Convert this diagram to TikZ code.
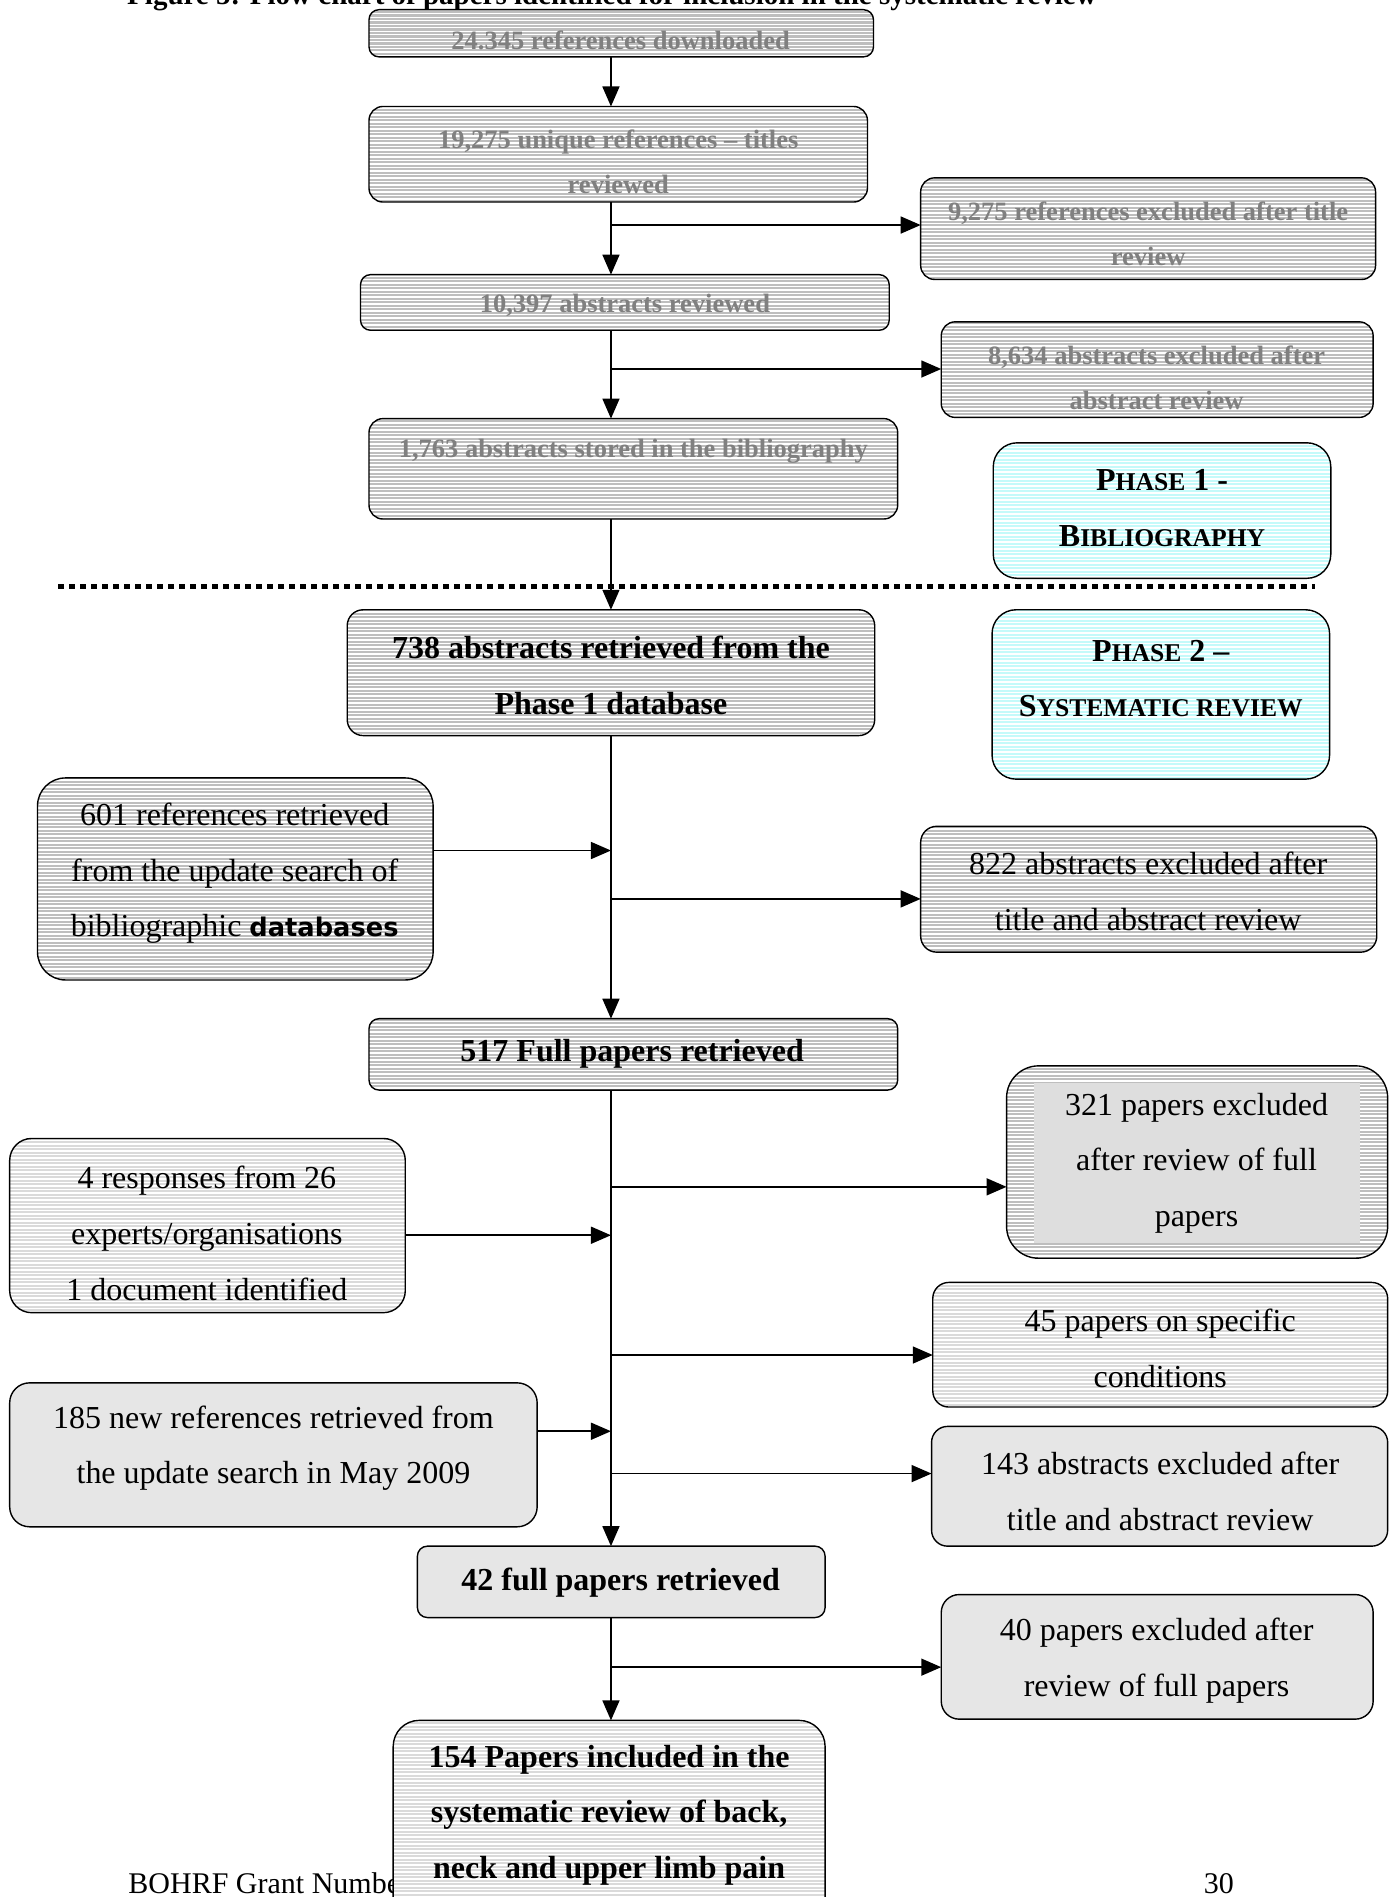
\documentclass[tikz,border=0pt]{standalone}
\usepackage{fontspec}
\setmainfont{Liberation Serif}
\newfontfamily\dvs{DejaVu Sans}
\usetikzlibrary{patterns,arrows.meta}
\definecolor{darkbase}{HTML}{BEBEBE}
\definecolor{lightbase}{HTML}{DADADA}
\definecolor{solidgray}{HTML}{E6E6E6}
\definecolor{cyanbase}{HTML}{C4FAFA}
\definecolor{innergray}{HTML}{DEDEDE}
\definecolor{phgray}{HTML}{808080}
\pgfdeclarepatternformonly{hstripes}{\pgfqpoint{-1pt}{-1pt}}{\pgfqpoint{5pt}{4.5pt}}{\pgfqpoint{4pt}{3.5pt}}{%
  \pgfpathrectangle{\pgfqpoint{-1pt}{0pt}}{\pgfqpoint{6pt}{1.1pt}}\pgfusepath{fill}}
% name, x1, y1, x2, y2, style, corner radius
\newcommand\flowbox[7]{%
  \node[#6, rounded corners=#7, minimum width={1.2099pt*(#4-#2)}, minimum height={1.2099pt*(#5-#3)}]
    (#1) at ({(#2+#4)/2},{(#3+#5)/2}) {};}
\newcommand\psc[1]{{\fontsize{25.6}{55.7}\selectfont #1}}
\begin{document}
\begin{tikzpicture}[x=1.2099pt,y=-1.2099pt,
  bx/.style={draw=black, line width=1.4pt, inner sep=0pt, outer sep=0pt},
  darkbox/.style={bx, preaction={fill=darkbase}, pattern=hstripes, pattern color=white},
  lightbox/.style={bx, preaction={fill=lightbase}, pattern=hstripes, pattern color=white},
  solidbox/.style={bx, fill=solidgray},
  cyanbox/.style={bx, preaction={fill=cyanbase}, pattern=hstripes, pattern color=white},
  gtxt/.style={text=phgray, font=\fontsize{26.5}{45}\selectfont\bfseries, align=center, inner sep=0pt, yshift=-2.5pt},
  btxt/.style={font=\fontsize{32}{55.7}\selectfont\bfseries, align=center, inner sep=0pt, yshift=-3.5pt},
  rtxt/.style={font=\fontsize{32}{55.7}\selectfont, align=center, inner sep=0pt, yshift=-3.5pt},
  arr/.style={line width=1.6pt, -{Triangle[length=20pt,width=17pt]}},
  ln/.style={line width=1.6pt}]
\useasboundingbox (0,0) rectangle (1153,1568);

% title and footer
\node[anchor=base west, inner sep=0pt, font=\fontsize{29}{34}\selectfont\bfseries] (title) at (105,4)
  {Figure 5: Flow chart of papers identified for inclusion in the systematic review};
\node[anchor=base west, inner sep=0pt, font=\fontsize{30}{34}\selectfont] (foot) at (106,1565) {BOHRF Grant Number};
\node[anchor=base west, inner sep=0pt, font=\fontsize{30}{34}\selectfont] (page) at (995,1565) {30};

% separator
\draw[line width=5pt, dash pattern=on 6pt off 5pt] (48,485) -- (1087,485);

% boxes
\flowbox{b1}{305}{8}{722}{47}{darkbox}{10pt}
\flowbox{b2}{305}{88}{717}{167}{darkbox}{14pt}
\flowbox{b3}{761}{147}{1137}{231}{darkbox}{14pt}
\flowbox{b4}{298}{227}{735}{273}{darkbox}{10pt}
\flowbox{b5}{778}{266}{1135}{345}{darkbox}{14pt}
\flowbox{b6}{305}{346}{742}{429}{darkbox}{14pt}
\flowbox{p1}{821}{366}{1100}{478}{cyanbox}{24pt}
\flowbox{b7}{287}{504}{723}{608}{darkbox}{16pt}
\flowbox{p2}{820}{504}{1099}{644}{cyanbox}{24pt}
\flowbox{b8}{31}{643}{358}{810}{darkbox}{28pt}
\flowbox{b9}{761}{683}{1138}{787}{darkbox}{16pt}
\flowbox{b10}{305}{842}{742}{901}{darkbox}{10pt}
\flowbox{b11}{832}{881}{1147}{1040}{darkbox}{32pt}
\fill[innergray] (855,895) rectangle (1124,1027);
\flowbox{b12}{8}{941}{335}{1085}{lightbox}{22pt}
\flowbox{b13}{771}{1060}{1147}{1163}{lightbox}{16pt}
\flowbox{b14}{8}{1143}{444}{1262}{solidbox}{20pt}
\flowbox{b15}{770}{1179}{1147}{1278}{solidbox}{16pt}
\flowbox{b16}{345}{1278}{682}{1337}{solidbox}{10pt}
\flowbox{b17}{778}{1318}{1135}{1421}{solidbox}{18pt}
\flowbox{b18}{325}{1422}{682}{1600}{lightbox}{26pt}

% texts
\node[gtxt] (t1) at (513,31) {24.345 references downloaded};
\node[gtxt] (t2) at (511,131.5) {19,275 unique references – titles\\reviewed};
\node[gtxt] (t3) at (949,191) {9,275 references excluded after title\\review};
\node[gtxt] (t4) at (516.5,250) {10,397 abstracts reviewed};
\node[gtxt] (t5) at (956,310) {8,634 abstracts excluded after\\abstract review};
\node[gtxt] (t6) at (523.5,371) {1,763 abstracts stored in the bibliography};
\node[btxt] (tp1) at (960.5,417) {P\psc{HASE} 1 -\\B\psc{IBLIOGRAPHY}};
\node[btxt] (t7) at (505,555.5) {738 abstracts retrieved from the\\Phase 1 database};
\node[btxt] (tp2) at (959.5,558) {P\psc{HASE} 2 –\\S\psc{YSTEMATIC REVIEW}};
\node[rtxt] (t8) at (194,719) {601 references retrieved\\from the update search of\\bibliographic {\dvs\bfseries\fontsize{25.7}{55.7}\selectfont databases}};
\node[rtxt] (t9) at (949,734) {822 abstracts excluded after\\title and abstract review};
\node[btxt] (t10) at (522.5,868) {517 Full papers retrieved};
\node[rtxt] (t11) at (989,958.5) {321 papers excluded\\after review of full\\papers};
\node[rtxt] (t12) at (171,1016.5) {4 responses from 26\\experts/organisations\\1 document identified};
\node[rtxt] (t13) at (959,1111.5) {45 papers on specific\\conditions};
\node[rtxt] (t14) at (226,1194) {185 new references retrieved from\\the update search in May 2009};
\node[rtxt] (t15) at (959,1230) {143 abstracts excluded after\\title and abstract review};
\node[btxt] (t16) at (513,1305) {42 full papers retrieved};
\node[rtxt] (t17) at (956,1370) {40 papers excluded after\\review of full papers};
\node[btxt] (t18) at (503.5,1497.5) {154 Papers included in the\\systematic review of back,\\neck and upper limb pain};

% trunk and junction coordinates
\coordinate (tk) at (505,0);
\coordinate (j3) at (505,186);
\coordinate (j5) at (505,305);
\coordinate (j8) at (505,703);
\coordinate (j9) at (505,743);
\coordinate (j11) at (505,981);
\coordinate (j12) at (505,1021);
\coordinate (j13) at (505,1120);
\coordinate (j14) at (505,1183);
\coordinate (j15) at (505,1218);
\coordinate (j17) at (505,1378);

% vertical connectors
\draw[arr] (b1.south -| tk) -- (b2.north -| tk);
\draw[arr] (b2.south -| tk) -- (b4.north -| tk);
\draw[arr] (b4.south -| tk) -- (b6.north -| tk);
\draw[arr] (b6.south -| tk) -- (b7.north -| tk);
\draw[arr] (b7.south -| tk) -- (b10.north -| tk);
\draw[arr] (b10.south -| tk) -- (b16.north -| tk);
\draw[arr] (b16.south -| tk) -- (b18.north -| tk);

% exclusion branches
\draw[arr] (j3) -- (j3 -| b3.west);
\draw[arr] (j5) -- (j5 -| b5.west);
\draw[arr] (j9) -- (j9 -| b9.west);
\draw[arr] (j11) -- (j11 -| b11.west);
\draw[arr] (j13) -- (j13 -| b13.west);
\draw[arr] (j15) -- (j15 -| b15.west);
\draw[arr] (j17) -- (j17 -| b17.west);

% incoming branches
\draw[arr] (j8 -| b8.east) -- (j8);
\draw[arr] (j12 -| b12.east) -- (j12);
\draw[arr] (j14 -| b14.east) -- (j14);
\end{tikzpicture}
\end{document}
